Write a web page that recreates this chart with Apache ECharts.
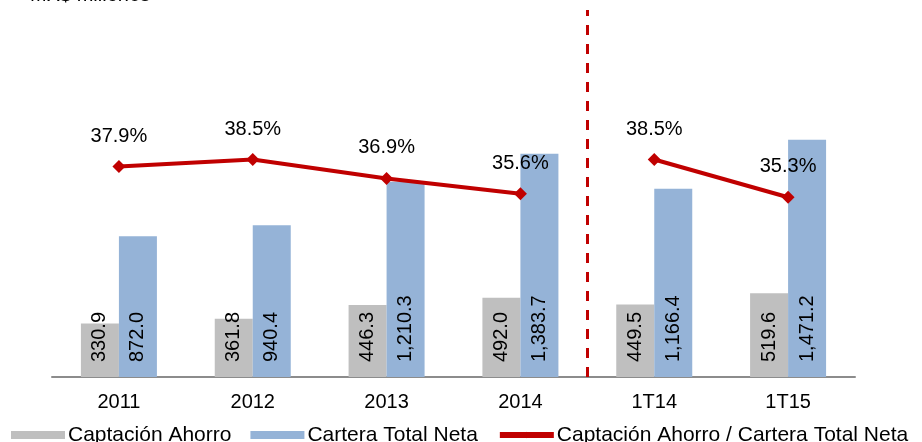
<!DOCTYPE html>
<html>
<head>
<meta charset="utf-8">
<script src="https://cdn.jsdelivr.net/npm/echarts@6/dist/echarts.min.js"></script>
<style>
  html, body { margin: 0; padding: 0; background: #fff; }
  #chart { width: 922px; height: 442px; }
</style>
</head>
<body>
<div id="chart"></div>
<script>
// Periods and values (MX$ millones)
const categories = ['2011', '2012', '2013', '2014', '1T14', '1T15'];
const captacionAhorro = [330.9, 361.8, 446.3, 492.0, 449.5, 519.6];
const carteraTotalNeta = [872.0, 940.4, 1210.3, 1383.7, 1166.4, 1471.2];
const ratioAnual = [37.9, 38.5, 36.9, 35.6, '-', '-'];
const ratioTrimestral = ['-', '-', '-', '-', 38.5, 35.3];
// Boundary between the annual and quarterly periods (in category units)
const periodBreak = 4;

const FONT = 'Liberation Sans, Arial, sans-serif';
const fmtNum = v => Number(v).toLocaleString('en-US', { minimumFractionDigits: 1, maximumFractionDigits: 1 });

const chart = echarts.init(document.getElementById('chart'));

const barLabel = {
  show: true,
  position: 'insideBottom',
  distance: 15,
  rotate: 90,
  align: 'left',
  verticalAlign: 'middle',
  color: '#000',
  fontSize: 20,
  fontFamily: FONT,
  formatter: p => fmtNum(p.value)
};

const lineLabel = {
  show: true,
  position: 'top',
  distance: 14,
  color: '#000',
  fontSize: 20,
  fontFamily: FONT,
  formatter: p => Number(p.value).toFixed(1) + '%'
};

const lineStyle = { color: '#C00000', width: 4 };

chart.setOption({
  animation: false,
  backgroundColor: '#fff',
  graphic: [{
    type: 'text',
    left: 30,
    top: -15,
    style: { text: 'MX$ millones', font: '20px ' + FONT, fill: '#000' }
  }],
  grid: { left: 52, right: 67, top: 10, bottom: 65 },
  legend: {
    data: [
      { name: 'Captación Ahorro', icon: 'rect' },
      { name: 'Cartera Total Neta', icon: 'rect' },
      { name: 'Captación Ahorro / Cartera Total Neta', lineStyle: { width: 6 } }
    ],
    left: 6,
    top: 418,
    width: 1000,
    itemWidth: 54,
    itemHeight: 8,
    itemGap: 19,
    textStyle: { color: '#000', fontSize: 21, fontFamily: FONT, lineHeight: 24, padding: [0, 0, 0, -2] }
  },
  xAxis: [{
    type: 'category',
    data: categories,
    axisLine: { lineStyle: { color: '#8C8C8C', width: 2 } },
    axisTick: { show: false },
    axisLabel: { color: '#000', fontSize: 20, fontFamily: FONT, margin: 15 }
  }, {
    type: 'value',
    min: 0,
    max: categories.length,
    show: false
  }],
  yAxis: [{
    type: 'value', min: 0, max: 2275, show: false, splitLine: { show: false }
  }, {
    type: 'value', min: 20.07, max: 51.17, show: false, splitLine: { show: false }
  }],
  series: [{
    name: 'Captación Ahorro',
    type: 'bar',
    data: captacionAhorro,
    barWidth: 38,
    barGap: '0%',
    itemStyle: { color: '#BFBFBF' },
    label: barLabel
  }, {
    name: 'Cartera Total Neta',
    type: 'bar',
    data: carteraTotalNeta,
    barWidth: 38,
    barGap: '0%',
    itemStyle: { color: '#95B3D7' },
    label: barLabel
  }, {
    name: 'Captación Ahorro / Cartera Total Neta',
    type: 'line',
    yAxisIndex: 1,
    data: ratioAnual,
    symbol: 'diamond',
    symbolSize: 13,
    itemStyle: { color: '#C00000' },
    lineStyle: lineStyle,
    label: lineLabel,
    z: 5
  }, {
    name: 'Captación Ahorro / Cartera Total Neta',
    type: 'line',
    yAxisIndex: 1,
    data: ratioTrimestral,
    symbol: 'diamond',
    symbolSize: 13,
    itemStyle: { color: '#C00000' },
    lineStyle: lineStyle,
    label: lineLabel,
    z: 5
  }, {
    name: 'divisor',
    type: 'line',
    xAxisIndex: 1,
    yAxisIndex: 0,
    data: [],
    silent: true,
    markLine: {
      silent: true,
      symbol: 'none',
      label: { show: false },
      lineStyle: { color: '#C00000', width: 3, type: [10, 9] },
      data: [{ xAxis: periodBreak }]
    }
  }]
});
</script>
</body>
</html>
